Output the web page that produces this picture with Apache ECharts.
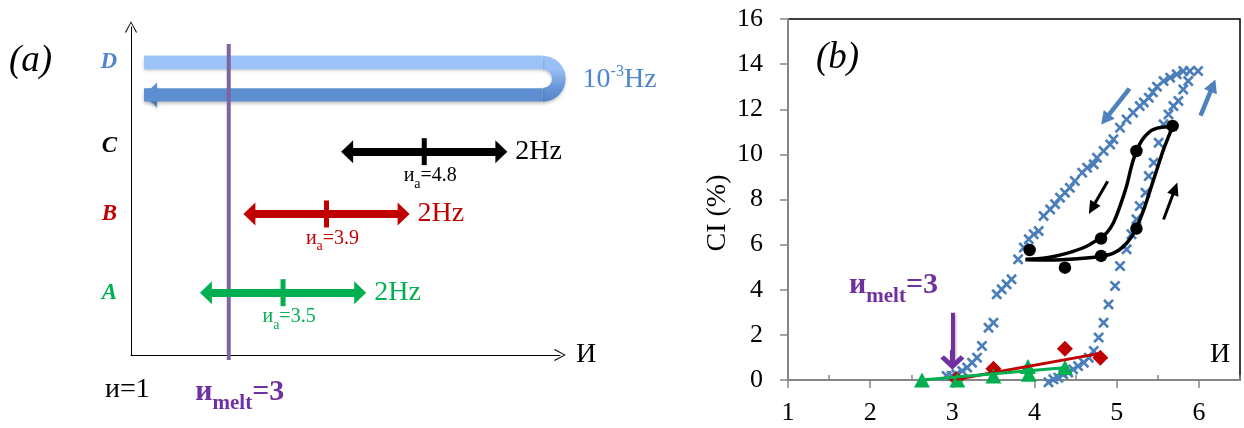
<!DOCTYPE html>
<html>
<head>
<meta charset="utf-8">
<title>CI against strain</title>
<script src="https://cdn.jsdelivr.net/npm/echarts@6.0.0/dist/echarts.min.js"></script>
<style>
  html, body { margin: 0; padding: 0; background: #ffffff; }
  #chart { width: 1244px; height: 428px; }
</style>
</head>
<body>
<div id="chart"></div>
<script>
// ---------- panel (a): the four loading protocols ----------
const protocolNames = ['A', 'B', 'C', 'D'];
const protocolColors = ['#00b050', '#c00000', '#000000', '#4f86cf'];
const protocolLevels = [1.9, 4.3, 6.2, 8.92];      // row of each protocol on the schematic
const amplitudeCentres = [3.5, 3.9, 4.8];          // иa of protocols A, B, C
const amplitudeSwing = 0.71;                        // half-span of the 2 Hz oscillation arrows
const oscillationLabels = ['2Hz', '2Hz', '2Hz'];
const sweepRange = [2.22, 5.89];                    // protocol D: slow sweep out and back
const sweepLevels = [8.92, 7.93];                   // outgoing bar, returning bar
const meltPoint = 3;
const schemeRange = [2.1, 6.05];

// ---------- panel (b): CI (%) against и ----------
const xTickValues = [1, 2, 3, 4, 5, 6];
const xMinorTickValues = [1.5, 2.5, 3.5, 4.5, 5.5, 6.5];

// protocol D, slow sweep: unloading branch (top right towards и = 3)
const slowSweepDown = [
  [5.99, 13.69], [5.89, 13.69], [5.81, 13.69], [5.73, 13.55], [5.65, 13.40], [5.57, 13.25],
  [5.49, 13.00], [5.44, 12.75], [5.39, 12.51], [5.33, 12.30], [5.28, 12.14], [5.20, 11.85],
  [5.12, 11.55], [5.04, 11.18], [4.96, 10.67], [4.92, 10.44], [4.84, 10.15], [4.76, 9.85],
  [4.72, 9.56], [4.64, 9.41], [4.58, 9.19], [4.49, 8.82], [4.43, 8.52], [4.37, 8.30],
  [4.31, 8.08], [4.25, 7.79], [4.19, 7.56], [4.11, 7.27], [4.05, 6.60], [3.99, 6.46],
  [3.93, 6.24], [3.87, 5.87], [3.80, 5.35], [3.72, 4.46], [3.66, 4.24], [3.60, 4.02],
  [3.54, 3.80], [3.50, 2.54], [3.44, 2.32], [3.36, 1.51], [3.30, 0.99], [3.24, 0.77],
  [3.18, 0.55], [3.12, 0.40], [3.05, 0.25], [2.99, 0.18], [2.93, 0.18]
];
// protocol D, slow sweep: loading branch (bottom towards top right)
const slowSweepUp = [
  [4.17, -0.1], [4.23, 0.03], [4.29, 0.10], [4.35, 0.25], [4.41, 0.33], [4.47, 0.47],
  [4.53, 0.62], [4.60, 0.77], [4.66, 0.99], [4.72, 1.29], [4.78, 1.88], [4.84, 2.54],
  [4.90, 3.35], [4.98, 4.17], [5.04, 5.05], [5.12, 5.79], [5.18, 6.46], [5.24, 7.12],
  [5.28, 7.71], [5.35, 8.30], [5.39, 9.04], [5.45, 9.63], [5.51, 10.52], [5.57, 11.33],
  [5.63, 11.77], [5.69, 12.14], [5.75, 12.37], [5.81, 12.88], [5.87, 13.25]
];

// protocol C (иa = 4.8): measured points and the two hand-drawn branches
const protocolCPoints = [[3.94, 5.76], [4.37, 4.98], [4.81, 6.27], [4.81, 5.50], [5.24, 6.71], [5.24, 10.15], [5.68, 11.26]];
const protocolCUpCurve = [
  [3.89, 5.33], [4.19, 5.32], [4.55, 5.38], [4.80, 5.47], [4.96, 5.62], [5.08, 5.91],
  [5.18, 6.35], [5.25, 6.83], [5.33, 7.56], [5.41, 8.45], [5.49, 9.34], [5.57, 10.22], [5.68, 11.23]
];
const protocolCDownCurve = [
  [5.68, 11.23], [5.45, 11.11], [5.33, 10.74], [5.24, 10.15], [5.18, 9.48], [5.12, 8.60],
  [5.04, 7.71], [4.96, 6.97], [4.88, 6.53], [4.80, 6.31], [4.64, 5.94], [4.39, 5.61],
  [4.15, 5.42], [3.89, 5.35]
];

// protocol B (иa = 3.9)
const protocolBPoints = [[3.05, 0.03], [3.50, 0.50], [4.37, 1.39], [4.80, 0.99]];
const protocolBTrend = [[3.05, 0.03], [4.80, 1.18]];

// protocol A (иa = 3.5)
const protocolAPoints = [[2.63, 0.0], [3.06, 0.0], [3.50, 0.18], [3.92, 0.60], [3.93, 0.25], [4.37, 0.55]];
const protocolATrend = [[2.63, 0.0], [4.39, 0.55]];

// direction arrows: [tail, head]
const sweepArrows = [[[5.155, 12.91], [4.86, 11.55]], [[6.02, 11.72], [6.17, 13.05]]];
const loopArrows = [[[4.89, 8.81], [4.70, 7.61]], [[5.57, 7.11], [5.71, 8.48]]];
const meltArrow = [[3, 2.98], [3, 0.9]];

// ---------- drawing ----------
const SERIF = '"Liberation Serif", "Times New Roman", serif';
const PURPLE = '#7030a0';
const crossPath = 'path://M0,1.7L1.7,0L5,3.3L8.3,0L10,1.7L6.7,5L10,8.3L8.3,10L5,6.7L1.7,10L0,8.3L3.3,5Z';
const chevronPath = 'path://M0,11L6,0L12,11L11,11.6L6,1.9L1,11.6Z';
const uTurnPath = 'path://M0,0A23,23 0 0 1 0,46L0,32.45A9.45,9.45 0 0 0 0,13.55Z';
const leftHeadPath = 'path://M0,12.5L13,0L13,25Z';
const openArrowPath = 'path://M10,0L20,10L17,13L12,8L12,18L8,18L8,8L3,13L0,10Z';
const barShadow = { shadowColor: 'rgba(0,0,0,0.22)', shadowBlur: 3, shadowOffsetY: 2 };

// rich styles for the "и_melt = 3" caption; `key` is 'color' for labels, 'fill' for graphic text
function meltRich(key) {
  const m = { fontFamily: SERIF, fontSize: 30, fontWeight: 'bold', verticalAlign: 'bottom', padding: [0, 0, 7, 0] };
  const s = { fontFamily: SERIF, fontSize: 21, fontWeight: 'bold', verticalAlign: 'bottom' };
  m[key] = PURPLE;
  s[key] = PURPLE;
  return { m: m, s: s };
}
const meltText = '{m|и}{s|melt}{m|=' + meltPoint + '}';

function ampRich(color) {
  return {
    v: { fontFamily: SERIF, fontSize: 20, color: color, verticalAlign: 'bottom', padding: [0, 0, 5, 0] },
    s: { fontFamily: SERIF, fontSize: 14, color: color, verticalAlign: 'bottom' }
  };
}

const sweepColor = protocolColors[3];
const uGradient = new echarts.graphic.LinearGradient(0, 0, 0, 1, [
  { offset: 0, color: '#9cc3f7' },
  { offset: 0.3, color: '#96bef4' },
  { offset: 0.7, color: '#6696d6' },
  { offset: 1, color: '#5585c9' }
]);

const chart = echarts.init(document.getElementById('chart'), null, { renderer: 'canvas' });

const option = {
  animation: false,
  backgroundColor: '#ffffff',
  textStyle: { fontFamily: SERIF },
  grid: [
    { left: 131, top: 27, width: 429, height: 328, outerBoundsMode: 'none', containLabel: false, show: false },
    { left: 788, top: 19, width: 452, height: 361, outerBoundsMode: 'none', containLabel: false,
      show: true, borderColor: '#000000', borderWidth: 1.5, backgroundColor: 'transparent' }
  ],
  xAxis: [
    {
      type: 'value', gridIndex: 0, min: schemeRange[0], max: schemeRange[1],
      axisLine: { show: true, onZero: false, symbol: ['none', chevronPath], symbolSize: [12, 12],
                  lineStyle: { color: '#000000', width: 1 } },
      axisTick: { show: false },
      splitLine: { show: false },
      axisLabel: { show: true, customValues: [meltPoint], margin: 22, padding: [0, 0, 0, 22],
                   formatter: function () { return meltText; }, rich: meltRich('color') },
      name: 'И', nameLocation: 'end', nameGap: 16,
      nameTextStyle: { fontFamily: SERIF, fontSize: 28, color: '#000000' }
    },
    {
      type: 'value', gridIndex: 1, min: 1, max: 6.5, interval: 1, position: 'bottom',
      axisLine: { show: true, onZero: false, lineStyle: { color: '#868686', width: 2 } },
      axisTick: { show: true, length: 8, customValues: xTickValues, lineStyle: { color: '#868686', width: 1.5 } },
      splitLine: { show: false },
      axisLabel: { show: true, customValues: xTickValues, margin: 20, color: '#000000',
                   fontFamily: SERIF, fontSize: 26 }
    },
    {
      type: 'value', gridIndex: 1, min: 1, max: 6.5, interval: 0.5, position: 'bottom',
      axisLine: { show: false, onZero: false },
      axisTick: { show: true, inside: true, length: 5, customValues: xMinorTickValues,
                  lineStyle: { color: '#868686', width: 1.5 } },
      axisLabel: { show: false },
      splitLine: { show: false }
    }
  ],
  yAxis: [
    {
      type: 'value', gridIndex: 0, min: 0, max: 10,
      axisLine: { show: true, onZero: false, symbol: ['none', chevronPath], symbolSize: [12, 12],
                  lineStyle: { color: '#000000', width: 1 } },
      axisTick: { show: false }, axisLabel: { show: false }, splitLine: { show: false }
    },
    {
      type: 'value', gridIndex: 1, min: 0, max: 16, interval: 2,
      axisLine: { show: true, onZero: false, lineStyle: { color: '#868686', width: 2 } },
      axisTick: { show: true, length: 8, lineStyle: { color: '#868686', width: 1.5 } },
      splitLine: { show: false },
      axisLabel: { show: true, margin: 25, color: '#000000', fontFamily: SERIF, fontSize: 26 }
    }
  ],
  graphic: [
    { type: 'text', left: 9, top: 43, silent: true,
      style: { text: '(a)', fontFamily: SERIF, fontSize: 37, fontStyle: 'italic', fill: '#000000' } },
    { type: 'text', left: 816, top: 40, silent: true,
      style: { text: '(b)', fontFamily: SERIF, fontSize: 37, fontStyle: 'italic', fill: '#000000' } },
    { type: 'text', left: 105, top: 376, silent: true,
      style: { text: 'и=1', fontFamily: SERIF, fontSize: 28, fill: '#000000' } },
    { type: 'text', left: 849, top: 270, silent: true,
      style: { text: meltText, rich: meltRich('fill') } },
    { type: 'text', left: 1210, top: 341, silent: true,
      style: { text: 'И', fontFamily: SERIF, fontSize: 28, fill: '#000000' } },
    { type: 'text', x: 718, y: 213, rotation: Math.PI / 2, silent: true,
      style: { text: 'CI (%)', fontFamily: SERIF, fontSize: 28, fill: '#000000', align: 'center', verticalAlign: 'middle' } }
  ],
  series: [
    // ---- panel (a) ----
    { // protocol D, outgoing bar
      type: 'line', xAxisIndex: 0, yAxisIndex: 0, silent: true, symbol: 'none', clip: false,
      data: [[sweepRange[0], sweepLevels[0]], [sweepRange[1], sweepLevels[0]]],
      lineStyle: Object.assign({ color: '#9cc3f7', width: 13.6, cap: 'butt' }, barShadow)
    },
    { // protocol D, returning bar
      type: 'line', xAxisIndex: 0, yAxisIndex: 0, silent: true, symbol: 'none', clip: false,
      data: [[sweepRange[1], sweepLevels[1]], [sweepRange[0], sweepLevels[1]]],
      lineStyle: Object.assign({ color: '#5d8ed1', width: 13.4, cap: 'butt' }, barShadow)
    },
    { // protocol D, turning point and return arrowhead
      type: 'scatter', xAxisIndex: 0, yAxisIndex: 0, silent: true, clip: false,
      data: [
        { value: [sweepRange[1], (sweepLevels[0] + sweepLevels[1]) / 2],
          symbol: uTurnPath, symbolSize: [23, 46], symbolOffset: [11.5, 0],
          itemStyle: Object.assign({ color: uGradient, opacity: 1 }, barShadow),
          label: { show: true, position: 'right', distance: 17,
                   formatter: '{b|10}{p|-3}{b|Hz}',
                   rich: {
                     b: { fontFamily: SERIF, fontSize: 28, color: sweepColor, verticalAlign: 'top', padding: [2, 0, 0, 0] },
                     p: { fontFamily: SERIF, fontSize: 16, color: sweepColor, verticalAlign: 'top' }
                   } } },
        { value: [sweepRange[0], sweepLevels[1]],
          symbol: leftHeadPath, symbolSize: [13, 25], symbolOffset: [6.5, 0],
          itemStyle: Object.assign({ color: '#5d8ed1', opacity: 1 }, barShadow) }
      ]
    },
    { // melting point
      type: 'line', xAxisIndex: 0, yAxisIndex: 0, silent: true, symbol: 'none', clip: false,
      data: [[meltPoint, -0.15], [meltPoint, 9.48]],
      lineStyle: { color: '#8064a2', width: 4 }
    },
    { // protocol letters
      type: 'scatter', xAxisIndex: 0, yAxisIndex: 0, silent: true, clip: false, symbolSize: 0,
      itemStyle: { opacity: 1 },
      data: protocolNames.map(function (n, i) {
        return { value: [schemeRange[0], protocolLevels[i]],
                 label: { formatter: n, color: protocolColors[i], offset: n === 'C' ? [0, -6] : [0, 0] } };
      }),
      label: { show: true, position: 'left', distance: 14, fontFamily: SERIF, fontSize: 23,
               fontStyle: 'italic', fontWeight: 'bold' }
    },
    { // 2 Hz oscillation arrows with their mean amplitude
      type: 'scatter', xAxisIndex: 0, yAxisIndex: 0, silent: true, clip: false, z: 6,
      symbol: 'rect', symbolSize: [5, 27],
      data: amplitudeCentres.map(function (c, i) {
        return { value: [c, protocolLevels[i]], itemStyle: { color: protocolColors[i], opacity: 1 },
                 label: { rich: ampRich(protocolColors[i]) } };
      }),
      label: { show: true, position: 'bottom', distance: 1, offset: [6, 0],
               formatter: function (p) { return '{v|и}{s|a}{v|=' + amplitudeCentres[p.dataIndex] + '}'; } },
      markLine: {
        silent: true, symbol: ['triangle', 'triangle'], symbolSize: [23, 12],
        emphasis: { disabled: true },
        label: { show: true, position: 'end', distance: 14, fontFamily: SERIF, fontSize: 28,
                 formatter: function (p) { return oscillationLabels[p.dataIndex]; } },
        data: amplitudeCentres.map(function (c, i) {
          return [
            { coord: [c - amplitudeSwing, protocolLevels[i]],
              lineStyle: { color: protocolColors[i], width: 8, type: 'solid', opacity: 1 },
              label: { color: protocolColors[i] } },
            { coord: [c + amplitudeSwing, protocolLevels[i]] }
          ];
        })
      }
    },

    // ---- panel (b) ----
    { type: 'scatter', xAxisIndex: 1, yAxisIndex: 1, silent: true, clip: false,
      symbol: crossPath, symbolSize: 11, itemStyle: { color: '#4a7ebb', opacity: 1 }, data: slowSweepDown },
    { type: 'scatter', xAxisIndex: 1, yAxisIndex: 1, silent: true, clip: false,
      symbol: crossPath, symbolSize: 11, itemStyle: { color: '#4a7ebb', opacity: 1 }, data: slowSweepUp },
    { type: 'line', xAxisIndex: 1, yAxisIndex: 1, silent: true, clip: false, symbol: 'none', smooth: 0.35,
      lineStyle: { color: '#000000', width: 3.5 }, data: protocolCUpCurve },
    { type: 'line', xAxisIndex: 1, yAxisIndex: 1, silent: true, clip: false, symbol: 'none', smooth: 0.35,
      lineStyle: { color: '#000000', width: 3.5 }, data: protocolCDownCurve },
    { type: 'scatter', xAxisIndex: 1, yAxisIndex: 1, silent: true, clip: false,
      symbol: 'circle', symbolSize: 12.5, itemStyle: { color: '#000000', opacity: 1 }, data: protocolCPoints },
    { type: 'line', xAxisIndex: 1, yAxisIndex: 1, silent: true, clip: false, symbol: 'none',
      lineStyle: { color: '#c00000', width: 3 }, data: protocolBTrend },
    { type: 'scatter', xAxisIndex: 1, yAxisIndex: 1, silent: true, clip: false,
      symbol: 'diamond', symbolSize: [16, 16], itemStyle: { color: '#c00000', opacity: 1 }, data: protocolBPoints },
    { type: 'line', xAxisIndex: 1, yAxisIndex: 1, silent: true, clip: false, symbol: 'none',
      lineStyle: { color: '#00b050', width: 3 }, data: protocolATrend },
    { type: 'scatter', xAxisIndex: 1, yAxisIndex: 1, silent: true, clip: false,
      symbol: 'triangle', symbolSize: [16, 15], itemStyle: { color: '#00b050', opacity: 1 }, data: protocolAPoints },
    { // sweep direction arrows
      type: 'line', xAxisIndex: 1, yAxisIndex: 1, silent: true, data: [],
      markLine: {
        silent: true, symbol: ['none', 'triangle'], symbolSize: [14, 13],
        emphasis: { disabled: true }, label: { show: false },
        lineStyle: { color: '#4f81bd', width: 4.5, type: 'solid', opacity: 1 },
        data: sweepArrows.map(function (a) { return [{ coord: a[0] }, { coord: a[1] }]; })
      }
    },
    { // loop direction arrows
      type: 'line', xAxisIndex: 1, yAxisIndex: 1, silent: true, data: [],
      markLine: {
        silent: true, symbol: ['none', 'triangle'], symbolSize: [12, 13],
        emphasis: { disabled: true }, label: { show: false },
        lineStyle: { color: '#000000', width: 3, type: 'solid', opacity: 1 },
        data: loopArrows.map(function (a) { return [{ coord: a[0] }, { coord: a[1] }]; })
      }
    },
    { // melting point marker
      type: 'line', xAxisIndex: 1, yAxisIndex: 1, silent: true, data: [],
      markLine: {
        silent: true, symbol: ['none', openArrowPath], symbolSize: [24, 20],
        emphasis: { disabled: true }, label: { show: false },
        lineStyle: { color: PURPLE, width: 4, type: 'solid', opacity: 1,
                     shadowColor: 'rgba(0,0,0,0.3)', shadowBlur: 3, shadowOffsetX: 1, shadowOffsetY: 2 },
        data: [[{ coord: meltArrow[0] }, { coord: meltArrow[1] }]]
      }
    }
  ]
};

chart.setOption(option);
</script>
</body>
</html>
